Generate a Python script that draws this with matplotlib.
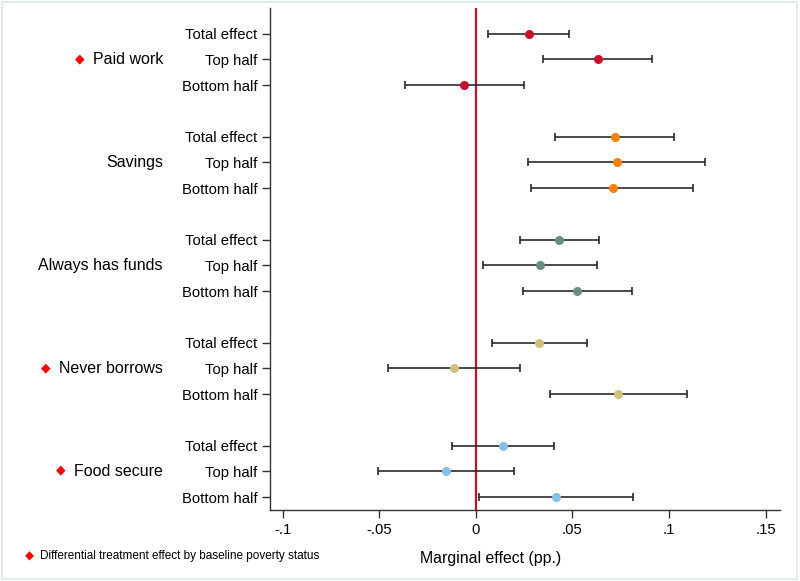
import matplotlib
matplotlib.use("Agg")
import matplotlib.pyplot as plt
from matplotlib.patches import Rectangle

plt.rcParams['font.family'] = ['Liberation Sans', 'DejaVu Sans']

groups = ["Paid work", "Savings", "Always has funds", "Never borrows", "Food secure"]
flagged = [True, False, False, True, True]
rows = ["Total effect", "Top half", "Bottom half"]
colors = ["#C8102E", "#F5820D", "#6B8E7F", "#CFC07E", "#86BFEA"]

estimates = [
    [0.0275, 0.0630, -0.0061],
    [0.0719, 0.0729, 0.0708],
    [0.0432, 0.0333, 0.0523],
    [0.0325, -0.0114, 0.0737],
    [0.0138, -0.0155, 0.0416],
]
ci_low = [
    [0.0064, 0.0349, -0.0370],
    [0.0408, 0.0269, 0.0287],
    [0.0230, 0.0038, 0.0244],
    [0.0081, -0.0458, 0.0383],
    [-0.0126, -0.0508, 0.0017],
]
ci_high = [
    [0.0482, 0.0912, 0.0249],
    [0.1026, 0.1185, 0.1126],
    [0.0637, 0.0627, 0.0808],
    [0.0573, 0.0226, 0.1092],
    [0.0403, 0.0198, 0.0813],
]
xticks = [-0.1, -0.05, 0, 0.05, 0.1, 0.15]
xticklabels = ["-.1", "-.05", "0", ".05", ".1", ".15"]

W, H = 800, 581
fig = plt.figure(figsize=(W / 100, H / 100), dpi=100)
ax_left, ax_right, ax_top, ax_bot = 270, 780, 8, 510
ax = fig.add_axes([ax_left / W, 1 - ax_bot / H, (ax_right - ax_left) / W, (ax_bot - ax_top) / H])

ypos_all, ylabels = [], []
for g in range(len(groups)):
    for r in range(3):
        y = g * 4 + r
        ypos_all.append(y)
        ylabels.append(rows[r])
        est = estimates[g][r]
        lo, hi = ci_low[g][r], ci_high[g][r]
        ax.errorbar([est], [y], xerr=[[est - lo], [hi - est]], fmt='none',
                    ecolor='#2a2a2a', elinewidth=1.2, capsize=3.0, capthick=1.2, zorder=2)
        ax.plot([est], [y], 'o', color=colors[g], markersize=6.5, zorder=3, markeredgewidth=0)

ax.axvline(0, color='#C0102A', lw=1.6, zorder=1)

ax.set_xlim(-0.1067, 0.1575)
ax.set_ylim(18.5, -1.0)
ax.set_yticks(ypos_all)
ax.set_yticklabels(ylabels, fontsize=10.7)
ax.set_xticks(xticks)
ax.set_xticklabels(xticklabels, fontsize=10.7)
ax.tick_params(axis='both', direction='out', length=6, width=1.0, color='#333333', pad=3)
for s in ['top', 'right']:
    ax.spines[s].set_visible(False)
for s in ['left', 'bottom']:
    ax.spines[s].set_color('#333333')
    ax.spines[s].set_linewidth(1.0)

def ydata_to_fig(yd):
    return ax.transData.transform((0, yd))[1] / H

for g, name in enumerate(groups):
    yf = ydata_to_fig(g * 4 + 1)
    t = fig.text(163 / W, yf, name, ha='right', va='center', fontsize=11.5)
    if flagged[g]:
        fig.canvas.draw()
        bb = t.get_window_extent()
        fig.text((bb.x0 - 13) / W, yf + 1 / H, "\u25C6", ha='center', va='center',
                 fontsize=9, color='#FF0000', family=['DejaVu Sans'])

fig.text(491 / W, 1 - 559 / H, "Marginal effect (pp.)", ha='center', va='center', fontsize=11.4)
fig.text(29 / W, 1 - 556 / H, "\u25C6", ha='center', va='center', fontsize=8.5,
         color='#FF0000', family=['DejaVu Sans'])
fig.text(40 / W, 1 - 556 / H, "Differential treatment effect by baseline poverty status",
         ha='left', va='center', fontsize=8.5)

fig.patches.append(Rectangle((0.002, 0.003), 0.994, 0.994, transform=fig.transFigure,
                             fill=False, edgecolor='#E3EAEE', lw=1.5))

fig.savefig("out.png", dpi=100)
